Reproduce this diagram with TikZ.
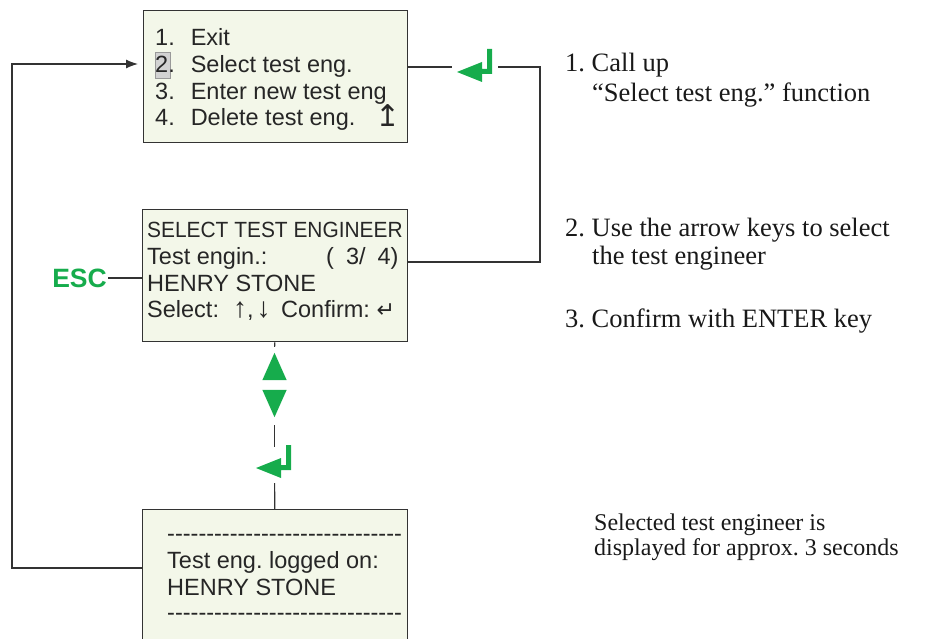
\documentclass[tikz,border=0pt]{standalone}
\usepackage{fontspec}
\setmainfont{Liberation Serif}
\newfontfamily\lcdfont{Liberation Sans}
\newfontfamily\lcdnarrow[FakeStretch=0.95]{Liberation Sans}
\newfontfamily\symfont{DejaVu Sans}
\usetikzlibrary{positioning, arrows.meta}
\definecolor{lcdbg}{RGB}{243,247,233}
\definecolor{keygreen}{RGB}{22,172,76}
\definecolor{linegray}{RGB}{51,51,51}
\frenchspacing

% green ENTER key, centred at #1
\newcommand{\enterkey}[1]{%
  \fill[keygreen, shift={(#1)}] (-17.5,6.5) -- (7.5,-3.5) -- (7.5,3.5) -- (12.5,3.5)
    -- (12.5,-16.5) -- (17.5,-16.5) -- (17.5,8.5) -- (7.5,8.5) -- (7.5,16.5) -- cycle;}
\newcommand{\dashrow}{\foreach \k in {1,...,30}{-}}
\newcommand{\bigarrow}[1]{{\fontsize{28}{28}\selectfont #1}}

\begin{document}
\begin{tikzpicture}[x=1pt, y=-1pt,
  screen/.style={draw=linegray, fill=lcdbg, line width=1.3pt, inner sep=0pt,
    anchor=north west, minimum width=265pt},
  lcd/.style={font=\lcdfont\fontsize{23.5}{27}\selectfont, anchor=base west,
    inner sep=0pt, text=black!85},
  note/.style={font=\fontsize{26.5}{30}\selectfont, anchor=base west,
    inner sep=0pt, text=black!90},
  spot/.style={inner sep=0pt, minimum width=36pt, minimum height=36pt},
  wire/.style={draw=linegray, line width=1.2pt}
  ]
  \clip (0,0) rectangle (935,639);

  % the three screens
  \node[screen, minimum width=264pt, minimum height=132pt] (menu) at (143,10) {};
  \node[screen, minimum height=132pt] (select) at (142,209) {};
  \node[screen, minimum height=145pt] (done) at (142,509) {};

  % main menu
  \node[draw=gray!80, fill=gray!35, line width=0.8pt, inner sep=0pt,
    minimum width=15pt, minimum height=26pt] (cursor) at (162.5,65) {};
  \node[lcd] (m1) at (155,46) {1.\hspace{16pt}Exit};
  \node[lcd] (m2) at (155,73) {2.\hspace{16pt}Select test eng.};
  \node[lcd] (m3) at (155,100) {3.\hspace{16pt}Enter new test eng};
  \node[lcd] (m4) at (155,126) {4.\hspace{16pt}Delete test eng.};
  \node[lcd, font=\symfont\fontsize{30}{30}\selectfont] (scroll) at (375,127) {↥};

  % selection screen
  \node[lcd, font=\lcdnarrow\fontsize{22}{27}\selectfont] (title) at (147,238) {SELECT TEST ENGINEER};
  \node[lcd] (engin) at (147,265) {Test engin.:};
  \node[lcd] (count) at (326,265) {(\hspace{12pt}3/\hspace{12pt}4)};
  \node[lcd] (name) at (147,292) {HENRY STONE};
  \node[lcd] (keys) at (147,318) {Select:\hspace{14pt}\bigarrow{↑},\hspace{3pt}\bigarrow{↓}};
  \node[lcd] (confirm) at (281,318) {Confirm: {\symfont\fontsize{22}{22}\selectfont ↵}};

  % confirmation screen
  \node[lcd] (dash1) at (167,541) {\dashrow};
  \node[lcd] (logged) at (167,568) {Test eng. logged on:};
  \node[lcd] (henry) at (167,595) {HENRY STONE};
  \node[lcd] (dash2) at (167,620) {\dashrow};

  % ENTER from the menu
  \node[spot, minimum width=46pt, minimum height=34pt] (enter1) at (475,67) {};
  \enterkey{474.5,65.5}
  \coordinate (turn) at (540,262);
  \draw[wire] (menu.east |- enter1) -- (enter1);
  \draw[wire] (enter1) -| (turn) -- (turn -| select.east);

  % ESC
  \node[font=\lcdfont\bfseries\fontsize{26.5}{26.5}\selectfont, text=keygreen,
    anchor=east, inner sep=1pt] (esc) at (108,278) {ESC};
  \draw[wire] (esc) -- (esc -| select.west);

  % arrow keys and ENTER below the selection
  \node[spot, minimum width=24pt, minimum height=27pt] (up) at (274.5,366.5) {};
  \fill[keygreen] (up.south west) -- (up.south east) -- (up.north) -- cycle;
  \node[spot, minimum width=24pt, minimum height=27pt] (down) at (274.5,403.5) {};
  \fill[keygreen] (down.north west) -- (down.north east) -- (down.south) -- cycle;
  \node[spot] (enter2) at (274.5,465) {};
  \enterkey{273.5,461.5}
  \draw[wire, shorten >=6pt] (select) -- (up);
  \draw[wire, shorten <=8pt] (down) -- (enter2);
  \draw[wire] (enter2) -- (done);

  % back to the menu
  \coordinate (back) at (12,64);
  \draw[wire, -{Latex[length=12pt, width=9pt]}, shorten >=5pt]
    (done.west |- logged.base) -| (back) -- (back -| menu.west);

  % explanations
  \node[note] (s1) at (565,72) {1. Call up};
  \node[note] (s1b) at (592,102) {“Select test eng.” function};
  \node[note] (s2) at (565,237) {2. Use the arrow keys to select};
  \node[note] (s2b) at (592,265) {the test engineer};
  \node[note] (s3) at (565,327) {3. Confirm with ENTER key};
  \node[note, font=\fontsize{24}{27}\selectfont] (info) at (594,530) {Selected test engineer is};
  \node[note, font=\fontsize{24}{27}\selectfont] (info2) at (594,555) {displayed for approx. 3 seconds};
\end{tikzpicture}
\end{document}
